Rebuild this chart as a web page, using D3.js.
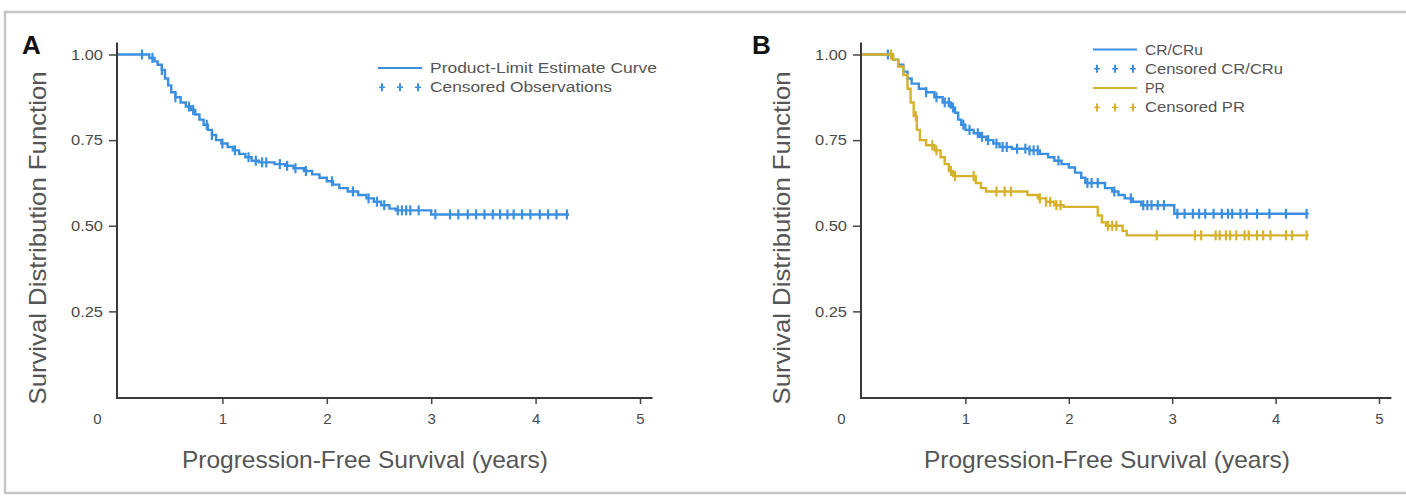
<!DOCTYPE html>
<html>
<head>
<meta charset="utf-8">
<script src="https://cdn.jsdelivr.net/npm/d3@7"></script>
<style>
  body { margin: 0; background: #fff; overflow: hidden; }
  svg { display: block; }
  .tick text { font-family: "Liberation Sans Narrow", "Liberation Sans", Arial, sans-serif; fill: #4a4a4a; }
</style>
</head>
<body>
<svg class="km" width="1406" height="496"></svg>
<script>
// x ticks / y ticks
const xTicks = [0, 1, 2, 3, 4, 5];
const yTicks = [0.25, 0.50, 0.75, 1.00];

// panel A: overall PFS (step times, survival after step)
const allTimes = [0, 0.30, 0.35, 0.38, 0.42, 0.45, 0.48, 0.51, 0.55, 0.60, 0.65, 0.70, 0.74, 0.78, 0.82, 0.86, 0.90, 0.94, 0.99, 1.05, 1.10, 1.16, 1.22, 1.28, 1.35, 1.50, 1.60, 1.68, 1.78, 1.86, 1.93, 2.00, 2.06, 2.12, 2.20, 2.30, 2.38, 2.45, 2.52, 2.60, 2.66, 3.00];
const allSurv  = [1, 0.99, 0.98, 0.97, 0.955, 0.93, 0.91, 0.89, 0.875, 0.86, 0.848, 0.838, 0.825, 0.81, 0.795, 0.78, 0.765, 0.75, 0.74, 0.73, 0.72, 0.71, 0.70, 0.69, 0.685, 0.68, 0.675, 0.668, 0.66, 0.65, 0.64, 0.63, 0.62, 0.61, 0.60, 0.59, 0.58, 0.57, 0.56, 0.55, 0.545, 0.533];
const allCensored = [0.23, 0.33, 0.42, 0.55, 0.68, 0.72, 0.85, 0.90, 1.00, 1.12, 1.25, 1.32, 1.38, 1.42, 1.55, 1.62, 1.70, 1.80, 2.05, 2.25, 2.40, 2.48, 2.55, 2.68, 2.72, 2.76, 2.80, 2.88, 3.04, 3.18, 3.26, 3.35, 3.43, 3.51, 3.59, 3.66, 3.73, 3.79, 3.87, 3.95, 4.04, 4.12, 4.20, 4.30];

// panel B: CR/CRu
const crTimes = [0, 0.30, 0.35, 0.40, 0.44, 0.48, 0.55, 0.62, 0.70, 0.78, 0.86, 0.90, 0.93, 0.96, 1.00, 1.08, 1.14, 1.20, 1.27, 1.33, 1.45, 1.62, 1.72, 1.80, 1.86, 1.93, 2.00, 2.06, 2.12, 2.16, 2.35, 2.42, 2.48, 2.54, 2.62, 2.70, 3.02];
const crSurv  = [1, 0.985, 0.97, 0.95, 0.93, 0.915, 0.90, 0.89, 0.875, 0.86, 0.845, 0.83, 0.81, 0.795, 0.78, 0.77, 0.76, 0.75, 0.74, 0.73, 0.725, 0.72, 0.71, 0.70, 0.69, 0.68, 0.67, 0.655, 0.64, 0.625, 0.61, 0.60, 0.59, 0.58, 0.57, 0.56, 0.535];
const crCensored = [0.25, 0.62, 0.72, 0.80, 0.84, 0.88, 0.98, 1.04, 1.12, 1.16, 1.22, 1.30, 1.36, 1.40, 1.50, 1.58, 1.62, 1.66, 1.70, 1.90, 2.18, 2.22, 2.28, 2.44, 2.60, 2.72, 2.76, 2.80, 2.86, 2.92, 3.05, 3.12, 3.20, 3.26, 3.32, 3.40, 3.48, 3.54, 3.58, 3.66, 3.72, 3.82, 3.94, 4.10, 4.30];

// panel B: PR
const prTimes = [0, 0.30, 0.35, 0.40, 0.44, 0.47, 0.50, 0.53, 0.56, 0.62, 0.70, 0.76, 0.80, 0.84, 0.88, 1.10, 1.15, 1.20, 1.60, 1.70, 1.78, 1.86, 1.95, 2.28, 2.32, 2.36, 2.52, 2.56];
const prSurv  = [1, 0.985, 0.965, 0.94, 0.90, 0.86, 0.82, 0.78, 0.75, 0.735, 0.72, 0.70, 0.68, 0.66, 0.645, 0.625, 0.61, 0.60, 0.59, 0.58, 0.57, 0.56, 0.555, 0.53, 0.51, 0.50, 0.485, 0.472];
const prCensored = [0.28, 0.52, 0.68, 0.72, 0.86, 0.90, 1.08, 1.30, 1.38, 1.44, 1.72, 1.78, 1.82, 1.88, 1.92, 2.38, 2.42, 2.46, 2.85, 3.22, 3.28, 3.42, 3.46, 3.52, 3.56, 3.62, 3.70, 3.74, 3.82, 3.88, 3.95, 4.10, 4.16, 4.30];

const lastTime = 4.32;

const blue = '#3b8fe0';
const gold = '#d6b22c';
const font = '"Liberation Sans Narrow", "Liberation Sans", Arial, sans-serif';

const svg = d3.select('.km');

svg.append('rect')
    .attr('x', 5).attr('y', 12)
    .attr('width', 1460).attr('height', 481)
    .attr('fill', 'none')
    .attr('stroke', '#c6c6c6')
    .attr('stroke-width', 2.5);

const survAt = (times, surv, t) => {
    let i = d3.bisectRight(times, t) - 1;
    return surv[Math.max(i, 0)];
};

const drawPanel = (p) => {
    const x = d3.scaleLinear().domain([0, 5]).range(p.xRange);
    const y = d3.scaleLinear().domain([0, 1]).range([397, 54.5]);
    const g = svg.append('g');

    // axes
    const yAxis = d3.axisLeft(y)
        .tickValues(yTicks)
        .tickFormat(d3.format('.2f'))
        .tickSize(8)
        .tickPadding(6);
    const yG = g.append('g')
        .attr('transform', `translate(${x(0) - 1},0)`)
        .call(yAxis);
    yG.select('.domain').remove();
    yG.selectAll('.tick line').attr('stroke', '#444').attr('stroke-width', 1.5);
    yG.selectAll('.tick text')
        .attr('font-size', 15)
        .attr('textLength', 32)
        .attr('lengthAdjust', 'spacingAndGlyphs');

    const xAxis = d3.axisBottom(x)
        .tickValues(xTicks)
        .tickFormat(d3.format('d'))
        .tickSize(6)
        .tickPadding(9);
    const xG = g.append('g')
        .attr('transform', `translate(0,${y(0) + 1})`)
        .call(xAxis);
    xG.select('.domain').remove();
    xG.selectAll('.tick line').attr('stroke', '#444').attr('stroke-width', 1.5);
    xG.selectAll('.tick text').attr('font-size', 15);
    xG.selectAll('.tick').filter(d => d === 0).select('line').remove();
    xG.selectAll('.tick').filter(d => d === 0).select('text').attr('x', -21);

    g.append('line')
        .attr('x1', x(0) - 1).attr('x2', x(0) - 1)
        .attr('y1', y(0) + 2).attr('y2', y(1.035))
        .attr('stroke', '#3a3a3a').attr('stroke-width', 2);
    g.append('line')
        .attr('x1', x(0) - 2).attr('x2', x(5.12))
        .attr('y1', y(0) + 1).attr('y2', y(0) + 1)
        .attr('stroke', '#3a3a3a').attr('stroke-width', 2);

    // titles
    g.append('text')
        .attr('x', p.letterX).attr('y', 54)
        .attr('font-family', 'Liberation Sans, Arial, sans-serif')
        .attr('font-weight', 'bold')
        .attr('font-size', 26)
        .attr('fill', '#111')
        .text(p.letter);

    g.append('text')
        .attr('transform', `translate(${p.yTitleX},238) rotate(-90)`)
        .attr('text-anchor', 'middle')
        .attr('dominant-baseline', 'central')
        .attr('font-family', font)
        .attr('font-size', 24)
        .attr('fill', '#555')
        .attr('textLength', 333)
        .attr('lengthAdjust', 'spacingAndGlyphs')
        .text('Survival Distribution Function');

    g.append('text')
        .attr('x', p.xTitleX).attr('y', 468)
        .attr('text-anchor', 'middle')
        .attr('font-family', font)
        .attr('font-size', 24)
        .attr('fill', '#555')
        .attr('textLength', 366)
        .attr('lengthAdjust', 'spacingAndGlyphs')
        .text('Progression-Free Survival (years)');

    // curves
    const line = d3.line()
        .x(d => x(d[0]))
        .y(d => y(d[1]))
        .curve(d3.curveStepAfter);

    p.series.forEach(s => {
        const pts = s.times.map((t, i) => [t, s.surv[i]]);
        pts.push([lastTime, s.surv[s.surv.length - 1]]);
        g.append('path')
            .datum(pts)
            .attr('d', line)
            .attr('fill', 'none')
            .attr('stroke', s.color)
            .attr('stroke-width', 2.4);

        g.append('g')
            .selectAll('line')
            .data(s.censored)
            .enter()
            .append('line')
            .attr('x1', d => x(d)).attr('x2', d => x(d))
            .attr('y1', d => y(survAt(s.times, s.surv, d)) - 5)
            .attr('y2', d => y(survAt(s.times, s.surv, d)) + 5)
            .attr('stroke', s.color)
            .attr('stroke-width', 2.2);
    });

    // legend
    const lg = g.append('g').attr('transform', `translate(${p.legendX},0)`);
    p.legend.forEach((item, i) => {
        const ly = p.legendY + i * 19.3;
        if (item.type === 'line') {
            lg.append('line')
                .attr('x1', 0).attr('x2', 44)
                .attr('y1', ly).attr('y2', ly)
                .attr('stroke', item.color).attr('stroke-width', 2);
        } else {
            [4, 22, 40].forEach(cx => {
                lg.append('line')
                    .attr('x1', cx).attr('x2', cx)
                    .attr('y1', ly - 4).attr('y2', ly + 4)
                    .attr('stroke', item.color).attr('stroke-width', 2);
                lg.append('line')
                    .attr('x1', cx - 3).attr('x2', cx + 3)
                    .attr('y1', ly).attr('y2', ly)
                    .attr('stroke', item.color).attr('stroke-width', 1.5);
            });
        }
        lg.append('text')
            .attr('x', p.legendTextDx).attr('y', ly)
            .attr('dominant-baseline', 'central')
            .attr('font-family', font)
            .attr('font-size', 14)
            .attr('fill', '#555')
            .attr('textLength', item.w)
            .attr('lengthAdjust', 'spacingAndGlyphs')
            .text(item.label);
    });
};

drawPanel({
    letter: 'A', letterX: 22, yTitleX: 37, xTitleX: 365,
    xRange: [118, 640],
    legendX: 378, legendY: 68, legendTextDx: 52,
    series: [{ times: allTimes, surv: allSurv, censored: allCensored, color: blue }],
    legend: [
        { type: 'line', color: blue, label: 'Product-Limit Estimate Curve', w: 227 },
        { type: 'plus', color: blue, label: 'Censored Observations', w: 182 }
    ]
});

drawPanel({
    letter: 'B', letterX: 752, yTitleX: 781, xTitleX: 1107,
    xRange: [862, 1379],
    legendX: 1093, legendY: 49.5, legendTextDx: 52,
    series: [
        { times: crTimes, surv: crSurv, censored: crCensored, color: blue },
        { times: prTimes, surv: prSurv, censored: prCensored, color: gold }
    ],
    legend: [
        { type: 'line', color: blue, label: 'CR/CRu', w: 58 },
        { type: 'plus', color: blue, label: 'Censored CR/CRu', w: 138 },
        { type: 'line', color: gold, label: 'PR', w: 20 },
        { type: 'plus', color: gold, label: 'Censored PR', w: 100 }
    ]
});
</script>
</body>
</html>
